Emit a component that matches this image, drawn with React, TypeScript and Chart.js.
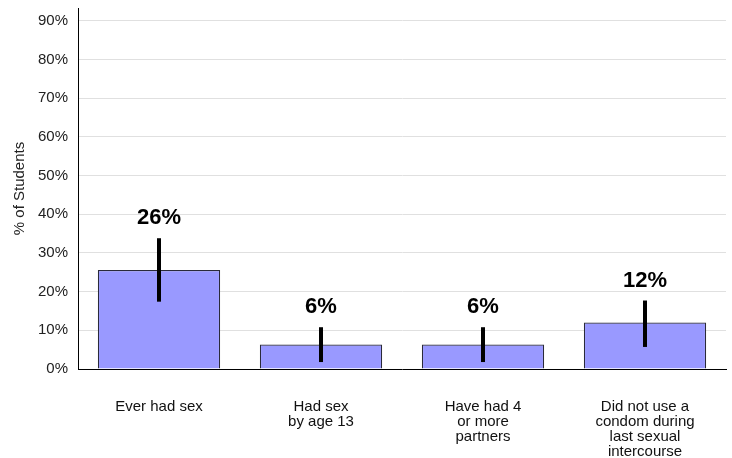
import React, { useEffect, useRef } from "react";
import { Chart, registerables } from "chart.js";

Chart.register(...registerables);

const categories: string[][] = [
  ["Ever had sex"],
  ["Had sex", "by age 13"],
  ["Have had 4", "or more", "partners"],
  ["Did not use a", "condom during", "last sexual", "intercourse"],
];
const values: number[] = [25.6, 6.3, 6.3, 12.0];
const lowerCI: number[] = [17.4, 1.8, 1.8, 5.7];
const upperCI: number[] = [33.8, 10.8, 10.8, 17.7];
const valueLabels: string[] = ["26%", "6%", "6%", "12%"];
const yTicks: number[] = [0, 10, 20, 30, 40, 50, 60, 70, 80, 90];

const FONT = "'Liberation Sans', Arial, Helvetica, sans-serif";

const errorBarPlugin = {
  id: "errorBars",
  afterDatasetsDraw(chart: any) {
    const { ctx, scales } = chart;
    const meta = chart.getDatasetMeta(0);
    const y = scales.y;
    ctx.save();
    meta.data.forEach((bar: any, i: number) => {
      const x = bar.x;
      const yLo = y.getPixelForValue(lowerCI[i]);
      const yHi = y.getPixelForValue(upperCI[i]);
      ctx.strokeStyle = "#000";
      ctx.lineWidth = 4;
      ctx.beginPath();
      ctx.moveTo(x, yLo);
      ctx.lineTo(x, yHi);
      ctx.stroke();
      ctx.fillStyle = "#000";
      ctx.font = `bold 22px ${FONT}`;
      ctx.textAlign = "center";
      ctx.textBaseline = "middle";
      ctx.fillText(valueLabels[i], x, yHi - 20);
    });
    ctx.restore();
  },
};

export default function App() {
  const ref = useRef<HTMLCanvasElement | null>(null);
  useEffect(() => {
    document.body.style.margin = "0";
    if (!ref.current) return;
    const chart = new Chart(ref.current, {
      type: "bar",
      data: {
        labels: categories,
        datasets: [
          {
            data: values,
            backgroundColor: "#9999ff",
            borderColor: "#2a2a3a",
            borderWidth: 1.2,
            barPercentage: 0.755,
            categoryPercentage: 1,
          },
        ],
      },
      options: {
        animation: false,
        responsive: false,
        maintainAspectRatio: false,
        layout: { padding: { left: 0, right: 6, top: 8, bottom: 0 } },
        plugins: {
          legend: { display: false },
          tooltip: { enabled: false },
        },
        scales: {
          x: {
            grid: { display: false, drawTicks: false },
            border: { display: true, color: "#000", width: 1 },
            ticks: {
              color: "#111",
              padding: 30,
              maxRotation: 0,
              autoSkip: false,
              font: { family: FONT, size: 15, lineHeight: "15px" } as any,
            },
            afterFit: (s: any) => {
              s.height = 89;
              s.paddingLeft = 0;
              s.paddingRight = 0;
            },
          },
          y: {
            min: 0,
            max: 93.3,
            afterBuildTicks: (s: any) => {
              s.ticks = yTicks.map((v) => ({ value: v }));
            },
            grid: { color: "#e0e0e0", lineWidth: 1, drawTicks: false },
            border: { display: true, color: "#000", width: 1 },
            ticks: {
              color: "#222",
              padding: 10,
              font: { family: FONT, size: 15 },
              callback: (v: any) => `${v}%`,
            },
            title: {
              display: true,
              text: "% of Students",
              color: "#222",
              font: { family: FONT, size: 15 },
              padding: { top: 11, bottom: 0 },
            },
            afterFit: (s: any) => {
              s.width = 78;
              s.paddingTop = 0;
              s.paddingBottom = 0;
            },
          },
        },
      },
      plugins: [errorBarPlugin],
    });
    return () => chart.destroy();
  }, []);
  return (
    <div style={{ width: 732, height: 458, background: "#fff" }}>
      <canvas ref={ref} width={732} height={458} style={{ width: 732, height: 458, display: "block" }} />
    </div>
  );
}
